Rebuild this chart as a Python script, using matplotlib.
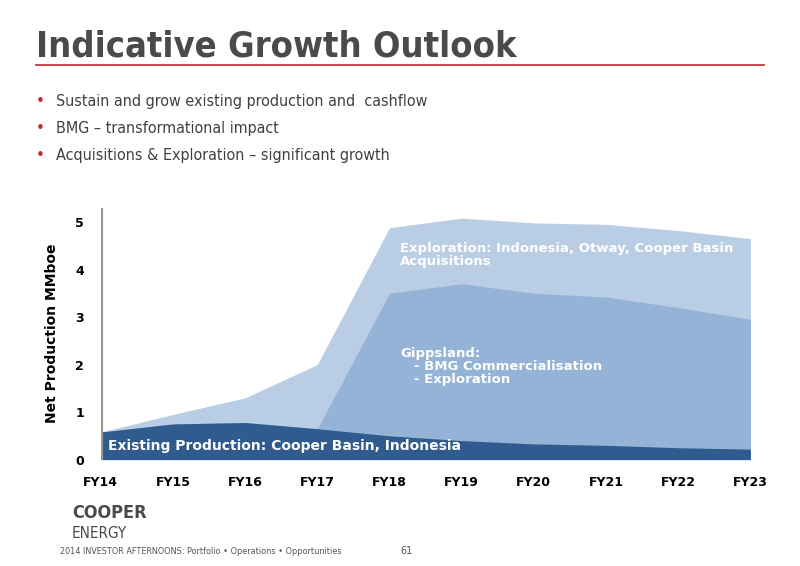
import matplotlib.pyplot as plt
import numpy as np

years = ['FY14', 'FY15', 'FY16', 'FY17', 'FY18', 'FY19', 'FY20', 'FY21', 'FY22', 'FY23']
existing = [0.58, 0.75, 0.78, 0.65, 0.5, 0.4, 0.33, 0.3, 0.25, 0.22]
gippsland_top = [0.58, 0.75, 0.78, 0.65, 3.5, 3.7, 3.5, 3.42, 3.2, 2.95]
total_top = [0.58, 0.95, 1.3, 2.0, 4.88, 5.08, 4.98, 4.95, 4.82, 4.65]
bullets = ['Sustain and grow existing production and  cashflow',
           'BMG \u2013 transformational impact',
           'Acquisitions & Exploration \u2013 significant growth']

narrow = ['DejaVu Sans']
fig = plt.figure(figsize=(8, 5.66), dpi=100)

fig.text(0.045, 0.9, 'Indicative Growth Outlook', fontsize=26, color='#4a4a4a',
         family=narrow, weight='bold', stretch='condensed')
fig.add_artist(plt.Line2D([0.045, 0.955], [0.885, 0.885], color='#c0262d', lw=1.2))
for i, b in enumerate(bullets):
    y = 0.82 - i * 0.047
    fig.text(0.045, y, '\u2022', color='#c0262d', fontsize=11, va='center')
    fig.text(0.07, y, b, fontsize=11.5, color='#404040', family=narrow, va='center',
             stretch='condensed')

ax = fig.add_axes([0.126, 0.188, 0.812, 0.445])
x = np.arange(len(years))
ax.fill_between(x, 0, total_top, color='#b9cde5', lw=0)
ax.fill_between(x, 0, gippsland_top, color='#95b3d7', lw=0)
ax.fill_between(x, 0, existing, color='#2f5b8e', lw=0)
ax.set_xlim(0, len(years) - 1)
ax.set_ylim(0, 5.3)
ax.set_yticks(range(6))
ax.set_xticks(x)
ax.set_xticklabels(years)
for s in ax.spines.values():
    s.set_visible(False)
ax.axvline(0, color='#999999', lw=3)
ax.tick_params(length=0, labelsize=9, pad=12)
for lab in ax.get_xticklabels() + ax.get_yticklabels():
    lab.set_fontweight('bold')
ax.set_ylabel('Net Production MMboe', fontsize=10, weight='bold', labelpad=12)

ax.text(0.1, 0.2, 'Existing Production: Cooper Basin, Indonesia', color='white',
        fontsize=10, weight='bold')
ax.text(4.15, 4.3, 'Exploration: Indonesia, Otway, Cooper Basin\nAcquisitions', color='white',
        fontsize=9.5, weight='bold', va='center', linespacing=1.0)
ax.text(4.15, 1.95, 'Gippsland:\n   - BMG Commercialisation\n   - Exploration', color='white',
        fontsize=9.5, weight='bold', va='center', linespacing=1.0)

fig.text(0.09, 0.085, 'COOPER', fontsize=13, color='#4a4a4a', weight='bold', stretch='condensed')
fig.text(0.09, 0.05, 'ENERGY', fontsize=11, color='#4a4a4a', stretch='condensed')
fig.text(0.075, 0.022, '2014 INVESTOR AFTERNOONS: Portfolio \u2022 Operations \u2022 Opportunities',
         fontsize=6.5, color='#555555', stretch='condensed')
fig.text(0.5, 0.022, '61', fontsize=7, color='#555555')

fig.savefig('out.png')
